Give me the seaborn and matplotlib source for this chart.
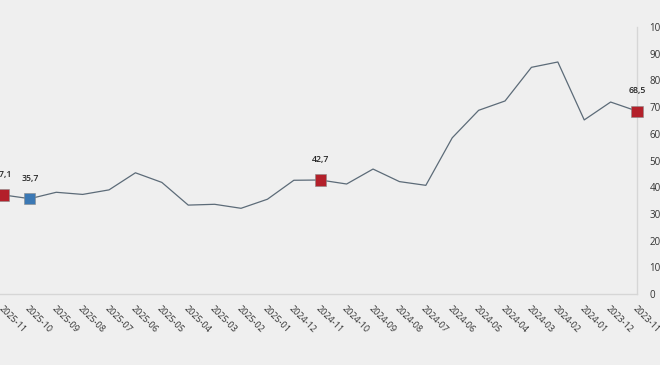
import pandas as pd
import seaborn as sns
import matplotlib.pyplot as plt

sns.set_style('white')
plt.rcParams['font.family'] = ['Open Sans', 'DejaVu Sans']

# 数据
months = ['2023-11', '2023-12', '2024-01', '2024-02', '2024-03', '2024-04', '2024-05',
          '2024-06', '2024-07', '2024-08', '2024-09', '2024-10', '2024-11', '2024-12',
          '2025-01', '2025-02', '2025-03', '2025-04', '2025-05', '2025-06', '2025-07',
          '2025-08', '2025-09', '2025-10', '2025-11']
values = [68.5, 71.9, 65.2, 86.9, 84.9, 72.3, 68.8, 58.5, 40.7, 42.1, 46.8, 41.2, 42.7,
          42.6, 35.5, 32.1, 33.6, 33.3, 41.8, 45.4, 39.0, 37.3, 38.1, 35.7, 37.1]
hl_months = ['2023-11', '2024-11', '2025-10', '2025-11']
hl_labels = ['68,5', '42,7', '35,7', '37,1']
hl_colors = ['#b3202a', '#b3202a', '#3b78b4', '#b3202a']
y_ticks = [0, 10, 20, 30, 40, 50, 60, 70, 80, 90, 100]

df = pd.DataFrame({'month': months, 'value': values})
df['pos'] = range(len(df))
hl = df[df['month'].isin(hl_months)].copy()
hl['label'] = hl_labels
hl['color'] = hl_colors

bg = '#efefef'
fig = plt.figure(figsize=(6.6, 3.65), dpi=100, facecolor=bg)
ax = fig.add_axes([0.0, 0.1945, 0.9652, 0.7315], facecolor=bg)

sns.lineplot(data=df, x='pos', y='value', color='#5c6b78', linewidth=0.9, ax=ax)
sns.scatterplot(data=hl, x='pos', y='value', hue='month', palette=dict(zip(hl['month'], hl['color'])),
                marker='s', s=64, edgecolor='#8a8a8a', linewidth=0.4, legend=False,
                zorder=5, clip_on=False, ax=ax)
for _, r in hl.iterrows():
    ax.annotate(r['label'], (r['pos'], r['value']), xytext=(0, 11.5), textcoords='offset points',
                ha='center', va='bottom', fontsize=6.3, fontweight='semibold', color='#262626')

# 镜像布局：x轴反向，y轴在右侧
ax.set_xlim(24.13, 0)
ax.set_ylim(0, 100)
ax.set_xticks(df['pos'])
ax.set_xticklabels(df['month'], rotation=-45, ha='left', va='top', rotation_mode='anchor',
                   fontsize=6.5, color='#333333')
ax.set_yticks(y_ticks)
ax.yaxis.tick_right()
ax.tick_params(axis='y', length=0, pad=9, labelsize=7, labelcolor='#333333')
ax.tick_params(axis='x', length=0, pad=7)
for t in ax.get_yticklabels():
    t.set_horizontalalignment('left')
ax.set_xlabel('')
ax.set_ylabel('')
for s in ['top', 'left']:
    ax.spines[s].set_visible(False)
for s in ['right', 'bottom']:
    ax.spines[s].set_color('#d6d6d6')
    ax.spines[s].set_linewidth(1.0)

plt.savefig('out.png', dpi=100, facecolor=bg)
